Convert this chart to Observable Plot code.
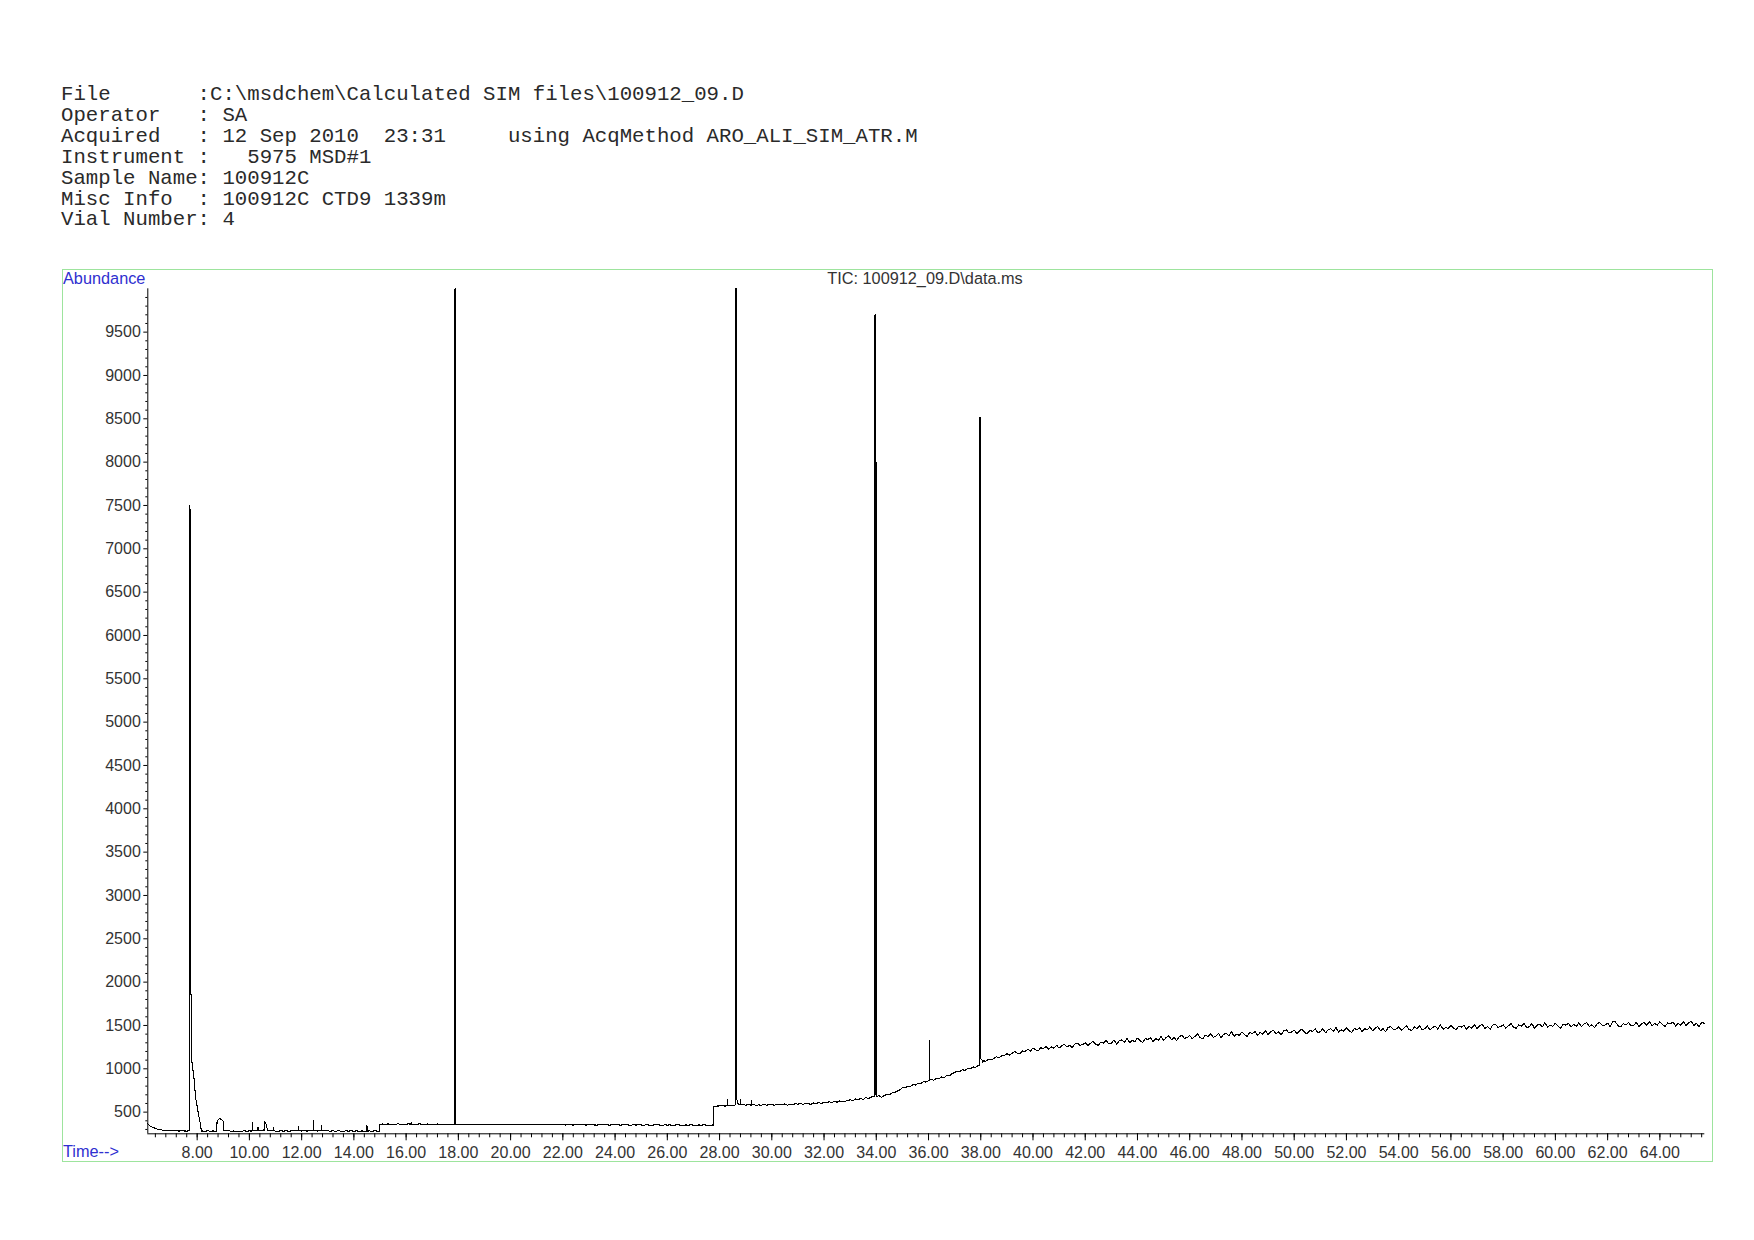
<!DOCTYPE html>
<html>
<head>
<meta charset="utf-8">
<script src="https://cdn.jsdelivr.net/npm/d3@7"></script>
<script src="https://cdn.jsdelivr.net/npm/@observablehq/plot@0.6"></script>
<style>
  body { margin: 0; background: #fff; }
  #page { position: relative; width: 1754px; height: 1240px; overflow: hidden; }
  #header { position: absolute; left: 61px; top: 85px; margin: 0; font-family: "Liberation Mono", monospace; font-size: 20.7px; line-height: 20.9px; color: #2a2a2a; white-space: pre; }
  #frame { position: absolute; left: 62px; top: 269px; width: 1651px; height: 893px; box-sizing: border-box; border: 1px solid #9de49d; }
  #chart { position: absolute; left: 62px; top: 269px; }
  .lbl { position: absolute; font-family: "Liberation Sans", Arial, sans-serif; font-size: 16.3px; line-height: 1; white-space: pre; }
  .blue { color: #2f2fd0; }
</style>
</head>
<body>
<div id="page">
  <pre id="header"></pre>
  <div id="frame"></div>
  <div id="chart"></div>
  <div class="lbl blue" id="ylab" style="left:63px; top:270px;"></div>
  <div class="lbl blue" id="xlab" style="left:63px; top:1143px;"></div>
  <div class="lbl" id="title" style="left:925px; top:270px; transform:translateX(-50%); color:#333;"></div>
</div>
<script>
// ---------- text ----------
const headerLines = [
  "File       :C:\\msdchem\\Calculated SIM files\\100912_09.D",
  "Operator   : SA",
  "Acquired   : 12 Sep 2010  23:31     using AcqMethod ARO_ALI_SIM_ATR.M",
  "Instrument :   5975 MSD#1",
  "Sample Name: 100912C",
  "Misc Info  : 100912C CTD9 1339m",
  "Vial Number: 4"
];
const chartTitle = "TIC: 100912_09.D\\data.ms";
const yAxisTitle = "Abundance";
const xAxisTitle = "Time-->";

// ---------- scales / ticks ----------
const timeDomain = [6.11, 65.72];
const abundanceDomain = [250, 10000];
const xMajorTicks = [8,10,12,14,16,18,20,22,24,26,28,30,32,34,36,38,40,42,44,46,48,50,52,54,56,58,60,62,64];
const xMinorStart = 6.4, xMinorEnd = 65.6, xMinorStep = 0.4;
const yMajorTicks = [500,1000,1500,2000,2500,3000,3500,4000,4500,5000,5500,6000,6500,7000,7500,8000,8500,9000,9500];
const yMinorStep = 100;

// ---------- baseline (TIC sampled every 0.1 min: [start minute, values...]) ----------
const scanInterval = 0.1;
const baselineRows = [
  [6.1, 368, 340, 325, 312, 300, 296, 292, 290, 287],
  [7.0, 289, 284, 286, 282, 285, 283, 281, 284, 900, 800],
  [8.0, 565, 461, 283, 278, 286, 279, 283, 280, 420, 420],
  [9.0, 395, 283, 288, 279, 283, 276, 282, 278, 285, 279],
  [10.0, 283, 282, 285, 290, 286, 292, 380, 288, 283, 289],
  [11.0, 281, 279, 286, 280, 286, 279, 284, 283, 288, 289],
  [12.0, 282, 287, 281, 288, 283, 288, 282, 291, 292, 284],
  [13.0, 284, 280, 286, 278, 285, 281, 279, 284, 280, 285],
  [14.0, 279, 284, 278, 283, 280, 285, 283, 279, 285, 281],
  [15.0, 358, 363, 359, 364, 358, 362, 361, 365, 359, 362],
  [16.0, 361, 364, 362, 362, 359, 364, 361, 358, 363, 360],
  [17.0, 362, 358, 363, 360, 357, 362, 359, 361, 357, 358],
  [18.0, 359, 356, 361, 355, 359, 357, 360, 355, 358, 357],
  [19.0, 356, 359, 354, 358, 359, 355, 358, 354, 358, 356],
  [20.0, 357, 354, 359, 356, 353, 358, 355, 359, 356, 353],
  [21.0, 356, 359, 354, 353, 357, 354, 358, 355, 352, 357],
  [22.0, 355, 352, 357, 354, 351, 356, 353, 357, 354, 351],
  [23.0, 354, 357, 352, 350, 355, 352, 356, 353, 350, 355],
  [24.0, 352, 355, 350, 353, 356, 352, 349, 354, 351, 355],
  [25.0, 352, 349, 354, 351, 348, 353, 355, 351, 348, 353],
  [26.0, 350, 353, 348, 351, 354, 350, 347, 352, 349, 353],
  [27.0, 350, 347, 352, 349, 353, 350, 347, 351, 568, 570],
  [28.0, 572, 576, 570, 578, 579, 575, 580, 600, 585, 590],
  [29.0, 580, 588, 582, 590, 576, 584, 579, 589, 581, 586],
  [30.0, 588, 579, 592, 583, 587, 595, 581, 590, 586, 597],
  [31.0, 592, 601, 589, 603, 596, 591, 607, 598, 612, 600],
  [32.0, 615, 606, 620, 611, 626, 614, 630, 619, 625, 636],
  [33.0, 642, 633, 651, 640, 658, 647, 668, 655, 672, 684],
  [34.0, 690, 692, 672, 690, 704, 698, 720, 728, 742, 756],
  [35.0, 784, 778, 800, 796, 818, 812, 836, 830, 852, 846],
  [36.0, 862, 876, 868, 890, 884, 906, 898, 922, 918, 944],
  [37.0, 956, 974, 968, 990, 982, 1004, 998, 1022, 1016, 1040],
  [38.0, 1100, 1092, 1088, 1111, 1104, 1118, 1139, 1128, 1148, 1150],
  [39.0, 1176, 1158, 1180, 1200, 1179, 1177, 1206, 1201, 1226, 1205],
  [40.0, 1240, 1219, 1208, 1242, 1236, 1254, 1225, 1252, 1238, 1272],
  [41.0, 1239, 1268, 1283, 1250, 1272, 1244, 1286, 1295, 1271, 1279],
  [42.0, 1301, 1267, 1294, 1319, 1280, 1271, 1309, 1295, 1326, 1289],
  [43.0, 1297, 1333, 1285, 1321, 1335, 1304, 1352, 1302, 1328, 1314],
  [44.0, 1354, 1322, 1302, 1348, 1338, 1360, 1315, 1351, 1327, 1373],
  [45.0, 1327, 1361, 1379, 1335, 1361, 1325, 1374, 1384, 1352, 1360],
  [46.0, 1384, 1346, 1375, 1401, 1358, 1347, 1389, 1373, 1405, 1364],
  [47.0, 1374, 1410, 1361, 1397, 1410, 1378, 1426, 1375, 1401, 1386],
  [48.0, 1426, 1394, 1373, 1419, 1408, 1430, 1385, 1421, 1396, 1442],
  [49.0, 1395, 1428, 1446, 1401, 1426, 1390, 1439, 1448, 1415, 1423],
  [50.0, 1446, 1407, 1435, 1461, 1417, 1405, 1446, 1429, 1461, 1419],
  [51.0, 1428, 1463, 1414, 1449, 1462, 1429, 1476, 1425, 1450, 1435],
  [52.0, 1474, 1441, 1420, 1465, 1452, 1473, 1430, 1465, 1449, 1485],
  [53.0, 1437, 1470, 1486, 1440, 1462, 1430, 1478, 1486, 1452, 1460],
  [54.0, 1482, 1443, 1470, 1497, 1453, 1441, 1482, 1465, 1497, 1453],
  [55.0, 1461, 1495, 1446, 1479, 1491, 1458, 1506, 1455, 1479, 1464],
  [56.0, 1503, 1470, 1448, 1493, 1481, 1502, 1458, 1492, 1466, 1512],
  [57.0, 1464, 1497, 1513, 1467, 1488, 1456, 1505, 1514, 1480, 1486],
  [58.0, 1508, 1468, 1496, 1521, 1479, 1468, 1508, 1491, 1520, 1477],
  [59.0, 1485, 1520, 1470, 1504, 1516, 1483, 1532, 1481, 1503, 1488],
  [60.0, 1526, 1492, 1471, 1515, 1504, 1525, 1483, 1516, 1490, 1533],
  [61.0, 1485, 1517, 1533, 1488, 1508, 1474, 1523, 1532, 1498, 1505],
  [62.0, 1527, 1487, 1551, 1540, 1496, 1483, 1523, 1505, 1536, 1495],
  [63.0, 1503, 1537, 1487, 1521, 1534, 1500, 1548, 1497, 1521, 1505],
  [64.0, 1543, 1509, 1487, 1531, 1519, 1539, 1493, 1527, 1501, 1545],
  [65.0, 1498, 1530, 1546, 1500, 1524, 1486, 1534, 1526]
];

// ---------- peaks, spikes and steps: [time (min), abundance] ----------
const peakSegments = [
  [[7.71,284],[7.71,7500],[7.74,7420],[7.74,1860],[7.77,1860],[7.77,1180],[7.81,1050],[7.87,923],[7.94,665],[8.00,565],[8.06,461],[8.13,357],[8.16,282]],
  [[8.75,282],[8.76,380],[8.80,410],[8.85,425],[8.90,420],[8.95,410],[9.00,395],[9.01,290]],
  [[10.12,283],[10.12,384],[10.13,286]],
  [[10.33,288],[10.33,326],[10.34,290]],
  [[10.56,288],[10.57,395],[10.62,380],[10.66,330],[10.70,288]],
  [[10.93,286],[10.93,318],[10.94,284]],
  [[11.89,286],[11.89,335],[11.90,284]],
  [[12.46,286],[12.46,403],[12.47,288]],
  [[12.76,288],[12.76,340],[12.77,290]],
  [[14.50,282],[14.50,346],[14.51,281]],
  [[14.99,282],[14.99,357]],
  [[16.20,362],[16.20,385],[16.21,361]],
  [[17.86,357],[17.86,2500],[17.87,2500],[17.87,10000],[17.90,10000],[17.90,362]],
  [[27.77,351],[27.77,565]],
  [[28.30,574],[28.30,646],[28.31,576]],
  [[28.60,582],[28.60,1300],[28.61,1300],[28.61,10000],[28.64,10000],[28.64,5100],[28.66,5100],[28.66,650],[28.70,598]],
  [[28.81,585],[28.81,650],[28.82,586]],
  [[29.21,583],[29.21,640],[29.22,582]],
  [[33.94,684],[33.94,1100],[33.95,1100],[33.95,9700],[33.97,9700],[33.97,8000],[33.99,8000],[33.99,700],[34.03,682]],
  [[36.03,864],[36.03,1330],[36.05,1300],[36.05,870]],
  [[37.95,1042],[37.95,8520],[37.97,8520],[37.97,3100],[37.99,3100],[37.99,1115],[38.04,1110],[38.08,1078]]
];

// ---------- build trace ----------
let trace = [];
for (const [start, ...vals] of baselineRows) {
  vals.forEach((v, j) => trace.push({t: +(start + j * scanInterval).toFixed(2), v}));
}
trace = trace.filter(p => !peakSegments.some(s => p.t >= s[0][0] - 1e-6 && p.t <= s[s.length - 1][0] + 1e-6));
for (const s of peakSegments) for (const [t, v] of s) trace.push({t, v});
trace = trace.map((d, i) => ({...d, i})).sort((a, b) => a.t - b.t || a.i - b.i);

const xMinorTicks = d3.range(Math.round((xMinorEnd - xMinorStart) / xMinorStep) + 1).map(i => +(xMinorStart + i * xMinorStep).toFixed(2));
const yMinorTicks = d3.range(300, 10001, yMinorStep).filter(d => d % 500 !== 0);

// ---------- text ----------
document.getElementById("header").textContent = headerLines.join("\n");
document.getElementById("title").textContent = chartTitle;
document.getElementById("ylab").textContent = yAxisTitle;
document.getElementById("xlab").textContent = xAxisTitle;

// ---------- plot ----------
const chart = Plot.plot({
  width: 1650,
  height: 892,
  marginLeft: 85.3,
  marginRight: 7.7,
  marginTop: 19.3,
  marginBottom: 27.7,
  style: {fontFamily: "'Liberation Sans', Arial, sans-serif", fontSize: "16px", background: "transparent", overflow: "visible"},
  x: {domain: timeDomain},
  y: {domain: abundanceDomain},
  marks: [
    Plot.ruleX([timeDomain[0]], {stroke: "black", strokeWidth: 1}),
    Plot.ruleY([abundanceDomain[0]], {stroke: "black", strokeWidth: 1}),
    Plot.axisX(xMinorTicks, {tickSize: 4, fill: "none", stroke: "black", label: null}),
    Plot.axisX(xMajorTicks, {tickSize: 7, tickPadding: 6, tickFormat: d => d.toFixed(2), stroke: "black", fill: "#333", fontSize: 16, label: null}),
    Plot.axisY(yMinorTicks, {tickSize: 2, fill: "none", stroke: "black", label: null}),
    Plot.axisY(yMajorTicks, {tickSize: 4, tickPadding: 3, tickFormat: d => String(d), stroke: "black", fill: "#333", fontSize: 16, label: null}),
    Plot.line(trace, {x: "t", y: "v", stroke: "black", strokeWidth: 1.1, shapeRendering: "crispEdges"})
  ]
});
document.getElementById("chart").appendChild(chart);
</script>
</body>
</html>
